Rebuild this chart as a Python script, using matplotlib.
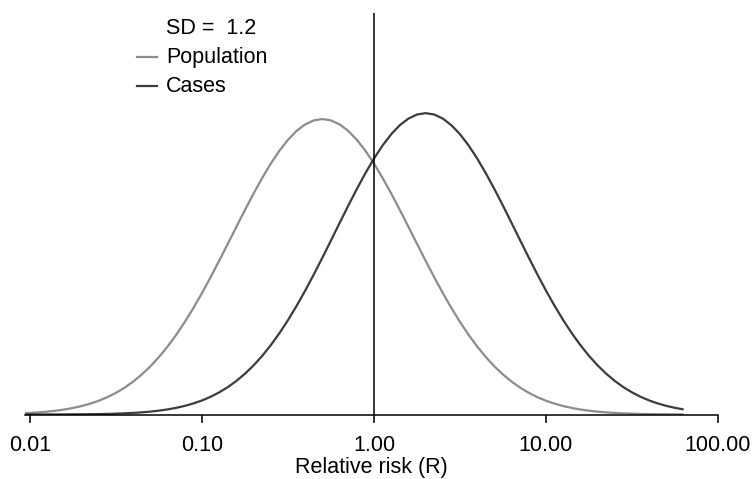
# Log-normal distributions of relative risk: population vs cases (SD = 1.2)

import matplotlib
matplotlib.use("Agg")
import matplotlib.pyplot as plt
from matplotlib.lines import Line2D
from matplotlib.ticker import FixedLocator, NullLocator
import numpy as np

plt.rcParams['font.family'] = ['Liberation Sans', 'DejaVu Sans']

log_rr = [-2.05, -2.00, -1.95, -1.90, -1.85, -1.80, -1.75, -1.70, -1.65, -1.60,
          -1.55, -1.50, -1.45, -1.40, -1.35, -1.30, -1.25, -1.20, -1.15, -1.10,
          -1.05, -1.00, -0.95, -0.90, -0.85, -0.80, -0.75, -0.70, -0.65, -0.60,
          -0.55, -0.50, -0.45, -0.40, -0.35, -0.30, -0.25, -0.20, -0.15, -0.10,
          -0.05, 0.00, 0.05, 0.10, 0.15, 0.20, 0.25, 0.30, 0.35, 0.40,
          0.45, 0.50, 0.55, 0.60, 0.65, 0.70, 0.75, 0.80, 0.85, 0.90,
          0.95, 1.00, 1.05, 1.10, 1.15, 1.20, 1.25, 1.30, 1.35, 1.40,
          1.45, 1.50, 1.55, 1.60, 1.65, 1.70, 1.75, 1.80]

# curve heights (population peak = 1)
population = [0.0039, 0.0053, 0.0072, 0.0096, 0.0128, 0.0169, 0.0221, 0.0286, 0.0367, 0.0466,
              0.0587, 0.0734, 0.0908, 0.1114, 0.1354, 0.1630, 0.1945, 0.2301, 0.2697, 0.3132,
              0.3605, 0.4111, 0.4647, 0.5205, 0.5777, 0.6354, 0.6926, 0.7481, 0.8007, 0.8494,
              0.8928, 0.9300, 0.9600, 0.9820, 0.9955, 1.0000, 0.9955, 0.9820, 0.9600, 0.9300,
              0.8928, 0.8494, 0.8007, 0.7481, 0.6926, 0.6354, 0.5777, 0.5205, 0.4647, 0.4111,
              0.3605, 0.3132, 0.2697, 0.2301, 0.1945, 0.1630, 0.1354, 0.1114, 0.0908, 0.0734,
              0.0587, 0.0466, 0.0367, 0.0286, 0.0221, 0.0169, 0.0128, 0.0096, 0.0072, 0.0053,
              0.0039, 0.0028, 0.0020, 0.0014, 0.0010, 0.0007, 0.0005, 0.0003]

cases = [0.0000, 0.0001, 0.0001, 0.0001, 0.0002, 0.0003, 0.0005, 0.0007, 0.0010, 0.0014,
         0.0020, 0.0029, 0.0040, 0.0054, 0.0073, 0.0098, 0.0131, 0.0172, 0.0225, 0.0292,
         0.0374, 0.0475, 0.0599, 0.0749, 0.0926, 0.1136, 0.1381, 0.1663, 0.1984, 0.2347,
         0.2751, 0.3195, 0.3677, 0.4193, 0.4740, 0.5309, 0.5893, 0.6481, 0.7065, 0.7631,
         0.8167, 0.8664, 0.9107, 0.9486, 0.9792, 1.0016, 1.0154, 1.0200, 1.0154, 1.0016,
         0.9792, 0.9486, 0.9107, 0.8664, 0.8167, 0.7631, 0.7065, 0.6481, 0.5893, 0.5309,
         0.4740, 0.4193, 0.3677, 0.3195, 0.2751, 0.2347, 0.1984, 0.1663, 0.1381, 0.1136,
         0.0926, 0.0749, 0.0599, 0.0475, 0.0374, 0.0292, 0.0225, 0.0172]

tick_values = [0.01, 0.1, 1, 10, 100]
tick_labels = ["0.01", "0.10", "1.00", "10.00", "100.00"]
sd_text = "SD =  1.2"

rr = 10 ** np.array(log_rr)
c_pop = '#8c8c8c'
c_cas = '#3c3c3c'
fs = 15.5

W, H = 752, 479
fig = plt.figure(figsize=(W / 100, H / 100), dpi=100)
ax = fig.add_axes([25 / W, 1 - 414.5 / H, 693 / W, 401.5 / H])

ax.plot(rr, population, c=c_pop, lw=1.6, solid_capstyle='butt')
ax.plot(rr, cases, c=c_cas, lw=1.6, solid_capstyle='butt')
ax.axvline(1.0, c='black', lw=1.1)

ax.set_xscale('log')
ax.set_xlim(10 ** (-2 - 5 / 172), 100)
ax.set_ylim(0, 1.359)
ax.xaxis.set_major_locator(FixedLocator(tick_values))
ax.xaxis.set_minor_locator(NullLocator())
ax.set_xticklabels(tick_labels)
ax.set_yticks([])
for s in ['left', 'right', 'top']:
    ax.spines[s].set_visible(False)
ax.spines['bottom'].set_linewidth(1.1)
ax.tick_params(axis='x', direction='out', length=6, width=1.1,
               labelsize=fs, pad=8.5)
ax.set_xlabel("Relative risk (R)", fontsize=fs, labelpad=1)

# hand-placed legend at the top left
fig.text(166 / W, 1 - 28.5 / H, sd_text, fontsize=fs, va='center', ha='left')
fig.text(166 / W, 1 - 58 / H, "Population", fontsize=fs, va='center', ha='left')
fig.text(166 / W, 1 - 86 / H, "Cases", fontsize=fs, va='center', ha='left')
fig.add_artist(Line2D([137 / W, 157 / W], [1 - 57 / H, 1 - 57 / H], c=c_pop, lw=1.6))
fig.add_artist(Line2D([137 / W, 157 / W], [1 - 86 / H, 1 - 86 / H], c=c_cas, lw=1.6))

fig.savefig('out.png', dpi=100)
